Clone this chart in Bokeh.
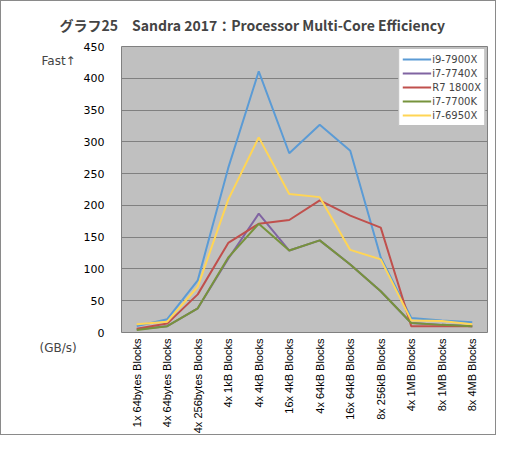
import math
from bokeh.plotting import figure
from bokeh.models import Legend, LegendItem, Label, Title, FactorRange, Range1d, SingleIntervalTicker
from bokeh.embed import file_html
from bokeh.resources import INLINE

categories = ["1x 64bytes Blocks", "4x 64bytes Blocks", "4x 256bytes Blocks", "4x 1kB Blocks",
              "4x 4kB Blocks", "16x 4kB Blocks", "4x 64kB Blocks", "16x 64kB Blocks",
              "8x 256kB Blocks", "4x 1MB Blocks", "8x 1MB Blocks", "8x 4MB Blocks"]

i9_7900x = [10, 21, 82, 259, 411, 282, 327, 286, 118, 23, 19, 16]
i7_7740x = [5, 10, 38, 116, 187, 129, 145, 107, 65, 15, 12, 10]
r7_1800x = [6, 14, 60, 141, 171, 177, 208, 184, 165, 10, 10, 10]
i7_7700k = [4, 10, 38, 118, 171, 129, 145, 107, 65, 15, 12, 10]
i7_6950x = [13, 17, 72, 209, 307, 218, 213, 130, 115, 19, 18, 13]

series_names = ["i9-7900X", "i7-7740X", "R7 1800X", "i7-7700K", "i7-6950X"]
series_values = [i9_7900x, i7_7740x, r7_1800x, i7_7700k, i7_6950x]
series_colors = ["#5B9BD5", "#8064A2", "#C0504D", "#77933C", "#FFD555"]

title_text = "グラフ25　Sandra 2017：Processor Multi-Core Efficiency"

p = figure(width=496, height=435, output_backend="svg", toolbar_location=None,
           x_range=FactorRange(*categories, range_padding=0), y_range=Range1d(0, 450))
p.min_border_left = 120
p.min_border_right = 10
p.min_border_top = 45
p.min_border_bottom = 103
p.background_fill_color = "#C0C0C0"
p.border_fill_color = "white"
p.outline_line_color = "#808080"
p.outline_line_width = 1
p.styles = {"border": "1px solid #8a8a8a", "box-sizing": "border-box"}

p.xgrid.grid_line_color = None
p.ygrid.grid_line_color = "#808080"
p.ygrid.grid_line_width = 1
p.yaxis.ticker = SingleIntervalTicker(interval=50)

for ax in (p.xaxis, p.yaxis):
    ax.axis_line_color = None
    ax.major_tick_line_color = None
    ax.minor_tick_line_color = None
    ax.major_tick_out = 0
    ax.major_tick_in = 0
    ax.major_label_text_color = "black"

p.yaxis.major_label_text_font = "DejaVu Sans"
p.yaxis.major_label_text_font_size = "11px"
p.yaxis.major_label_standoff = 13
p.xaxis.major_label_text_font = "Liberation Sans"
p.xaxis.major_label_text_font_size = "11px"
p.xaxis.major_label_orientation = math.pi / 2
p.xaxis.major_label_standoff = 6

items = []
for name, vals, col in zip(series_names, series_values, series_colors):
    r = p.line(categories, vals, line_color=col, line_width=2)
    items.append(LegendItem(label=name, renderers=[r]))

legend = Legend(items=items, location="top_right")
legend.label_text_font = "DejaVu Sans"
legend.label_text_font_size = "10px"
legend.glyph_width = 29
legend.glyph_height = 14
legend.label_height = 14
legend.label_standoff = 1
legend.spacing = 0
legend.padding = 3
legend.margin = 2
legend.border_line_color = "#808080"
legend.background_fill_color = "white"
legend.background_fill_alpha = 1
p.add_layout(legend)

p.title = Title(text=title_text, text_font="Noto Sans CJK JP", text_font_style="bold",
                text_font_size="14px", align="left", offset=-62, standoff=23)

p.add_layout(Label(x=-5, y=272, x_units="screen", y_units="screen", text="Fast↑",
                   text_font="DejaVu Sans", text_font_size="12px",
                   text_align="left", text_baseline="middle"), "left")
p.add_layout(Label(x=30, y=-15, x_units="screen", y_units="screen", text="(GB/s)",
                   text_font="DejaVu Sans", text_font_size="12px",
                   text_align="left", text_baseline="middle"), "left")

open("out.html", "w").write(file_html(p, INLINE))
